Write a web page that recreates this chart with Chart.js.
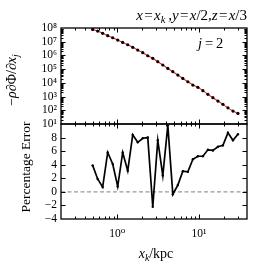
<!DOCTYPE html>
<html>
<head>
<meta charset="utf-8">
<script src="https://cdn.jsdelivr.net/npm/chart.js@4.4.0/dist/chart.umd.min.js"></script>
<style>
  html, body { margin: 0; padding: 0; background: #fff; }
  #wrap { position: relative; width: 257px; height: 274px; overflow: hidden; font-family: 'Liberation Serif', 'DejaVu Serif', serif; color: #000; }
  canvas { position: absolute; left: 0; top: 0; }
  .lbl { position: absolute; white-space: nowrap; line-height: 1; font-size: 13.5px; }
  .rot { transform: translate(-50%, -50%) rotate(-90deg); }
  .ctr { transform: translate(-50%, -50%); }
  sub { font-size: 70%; vertical-align: -0.3em; line-height: 0; }
</style>
</head>
<body>
<div id="wrap">
  <canvas id="top-chart" width="257" height="274"></canvas>
  <canvas id="bottom-chart" width="257" height="274"></canvas>
  <div class="lbl" style="right:10px; top:8px; font-size:15px"><i>x</i>&#8202;=&#8202;<i>x<sub>k</sub></i>&#8201;,<i>y</i>&#8202;=&#8202;<i>x</i>/2,<i>z</i>&#8202;=&#8202;<i>x</i>/3</div>
  <div class="lbl" style="left:198px; top:36px; font-size:14.5px"><i>j</i>&#8201;=&#8201;2</div>
  <div class="lbl rot" style="left:12px; top:80px; font-size:14px">&minus;<i>&rho;</i>&part;&Phi;/&part;<i>x<sub>j</sub></i></div>
  <div class="lbl rot" style="left:26px; top:167px; font-size:13.5px">Percentage Error</div>
  <div class="lbl ctr" style="left:156px; top:254px; font-size:14px"><i>x<sub>k</sub></i>/kpc</div>
</div>
<script>
const xPositions = [
  0.500, 0.576, 0.663, 0.764, 0.880, 1.013, 1.166, 1.344, 1.547, 1.782,
  2.052, 2.363, 2.721, 3.134, 3.610, 4.157, 4.786, 5.513, 6.349, 7.311,
  8.420, 9.696, 11.17, 12.86, 14.81, 17.06, 19.64, 22.62, 26.05, 30.00,
];
const forceValues = [
  7.9e7, 6.0e7, 4.1e7, 2.75e7, 1.95e7, 1.32e7, 8.9e6, 6.0e6, 3.9e6, 2.45e6,
  1.58e6, 9.5e5, 6.2e5, 3.5e5, 2.0e5, 1.12e5, 6.5e4, 3.7e4, 2.1e4, 1.2e4,
  6.9e3, 4.7e3, 2.7e3, 1.45e3, 830, 470, 270, 150, 87, 59,
];
const errorValues = [
  3.9, 1.9, 0.7, 5.8, 4.1, 0.8, 5.8, 3.1, 8.4, 7.3,
  7.9, 8.0, -2.2, 7.6, 2.4, 9.8, -0.35, 1.0, 3.05, 2.95,
  4.8, 5.25, 5.25, 6.2, 6.1, 6.65, 6.85, 8.7, 7.6, 8.5,
];
const xLabelTicks = [1, 10];
const xMinorTicks = [0.3, 0.4, 0.5, 0.6, 0.7, 0.8, 0.9, 2, 3, 4, 5, 6, 7, 8, 9, 20, 30];
const forceTicks = [1e1, 1e2, 1e3, 1e4, 1e5, 1e6, 1e7, 1e8];
const errorTicks = [-4, -2, 0, 2, 4, 6, 8];

const X_MIN = 0.205;
const X_MAX = 38.7;
const FONT = "'Liberation Serif', 'DejaVu Serif', serif";
const SUP = { '0': '⁰', '1': '¹', '2': '²', '3': '³', '4': '⁴', '5': '⁵', '6': '⁶', '7': '⁷', '8': '⁸', '9': '⁹' };

function powerLabel(value) {
  const exp = Math.round(Math.log10(value));
  return '10' + String(exp).split('').map((c) => SUP[c]).join('');
}

// minor log ticks for the force axis
const forceMinor = [];
forceTicks.slice(0, -1).forEach((d) => {
  for (let m = 2; m <= 9; m++) forceMinor.push(d * m);
});

// inward ticks on all four sides plus the frame, like matplotlib
const frameTicks = {
  id: 'frameTicks',
  afterDatasetsDraw(chart, args, opts) {
    const { ctx, chartArea: a } = chart;
    const xs = chart.scales.x;
    const ys = chart.scales.y;
    ctx.save();
    ctx.strokeStyle = '#000';
    ctx.lineWidth = 1;
    ctx.beginPath();
    const xTick = (v, len) => {
      const px = Math.round(xs.getPixelForValue(v)) + 0.5;
      if (px <= a.left + 1 || px >= a.right - 1) return;
      ctx.moveTo(px, a.bottom); ctx.lineTo(px, a.bottom - len);
      ctx.moveTo(px, a.top); ctx.lineTo(px, a.top + len);
    };
    const yTick = (v, len) => {
      const py = Math.round(ys.getPixelForValue(v)) + 0.5;
      if (py <= a.top + 1 || py >= a.bottom - 1) return;
      ctx.moveTo(a.left, py); ctx.lineTo(a.left + len, py);
      ctx.moveTo(a.right, py); ctx.lineTo(a.right - len, py);
    };
    opts.xMajor.forEach((v) => xTick(v, 4.5));
    opts.xMinor.forEach((v) => xTick(v, 2.5));
    opts.yMajor.forEach((v) => yTick(v, 4.5));
    opts.yMinor.forEach((v) => yTick(v, 2.5));
    ctx.stroke();
    ctx.lineWidth = 1.3;
    ctx.strokeRect(a.left, a.top, a.right - a.left, a.bottom - a.top);
    ctx.restore();
  },
};

const xScale = (show) => ({
  type: 'logarithmic',
  min: X_MIN,
  max: X_MAX,
  display: show,
  grid: { display: false, drawTicks: false },
  border: { display: false },
  afterBuildTicks: (scale) => { scale.ticks = xLabelTicks.map((v) => ({ value: v })); },
  afterFit: (scale) => { scale.height = show ? 55 : 0; },
  ticks: {
    autoSkip: false,
    maxRotation: 0,
    padding: 8,
    color: '#000',
    font: { family: FONT, size: 11.5 },
    callback: (v) => powerLabel(v),
  },
});

const topChart = new Chart(document.getElementById('top-chart'), {
  type: 'line',
  data: {
    datasets: [{
      data: xPositions.map((x, i) => ({ x, y: forceValues[i] })),
      borderColor: '#e8282b',
      borderWidth: 1.1,
      pointRadius: 1.6,
      pointBackgroundColor: '#000',
      pointBorderColor: '#000',
      pointBorderWidth: 0,
      tension: 0,
    }],
  },
  options: {
    responsive: false,
    animation: false,
    layout: { padding: { top: 28, right: 10, bottom: 150, left: 0 } },
    plugins: {
      legend: { display: false },
      tooltip: { enabled: false },
      frameTicks: { xMajor: xLabelTicks, xMinor: xMinorTicks, yMajor: forceTicks, yMinor: forceMinor },
    },
    scales: {
      x: xScale(false),
      y: {
        type: 'logarithmic',
        min: 1e1,
        max: 1e8,
        grid: { display: false, drawTicks: false },
        border: { display: false },
        afterBuildTicks: (scale) => { scale.ticks = forceTicks.map((v) => ({ value: v })); },
        afterFit: (scale) => { scale.width = 61; },
        ticks: {
          autoSkip: false,
          padding: 4,
          color: '#000',
          font: { family: FONT, size: 11.5 },
          callback: (v) => powerLabel(v),
        },
      },
    },
  },
  plugins: [frameTicks],
});

const bottomChart = new Chart(document.getElementById('bottom-chart'), {
  type: 'line',
  data: {
    datasets: [
      {
        data: xPositions.map((x, i) => ({ x, y: errorValues[i] })),
        borderColor: '#000',
        borderWidth: 1.7,
        pointRadius: 1.2,
        pointBackgroundColor: '#000',
        pointBorderWidth: 0,
        tension: 0,
      },
      {
        data: [{ x: X_MIN, y: 0 }, { x: X_MAX, y: 0 }],
        borderColor: '#9a9a9a',
        borderWidth: 1.3,
        borderDash: [4, 2.5],
        pointRadius: 0,
      },
    ],
  },
  options: {
    responsive: false,
    animation: false,
    layout: { padding: { top: 124, right: 10, bottom: 0, left: 0 } },
    plugins: {
      legend: { display: false },
      tooltip: { enabled: false },
      frameTicks: { xMajor: xLabelTicks, xMinor: xMinorTicks, yMajor: errorTicks, yMinor: [] },
    },
    scales: {
      x: xScale(true),
      y: {
        type: 'linear',
        min: -4,
        max: 10,
        grid: { display: false, drawTicks: false },
        border: { display: false },
        afterBuildTicks: (scale) => { scale.ticks = errorTicks.map((v) => ({ value: v })); },
        afterFit: (scale) => { scale.width = 61; },
        ticks: {
          autoSkip: false,
          padding: 4,
          color: '#000',
          font: { family: FONT, size: 11.5 },
          callback: (v) => (v < 0 ? '\u2212' + Math.abs(v) : String(v)),
        },
      },
    },
  },
  plugins: [frameTicks],
});
</script>
</body>
</html>
